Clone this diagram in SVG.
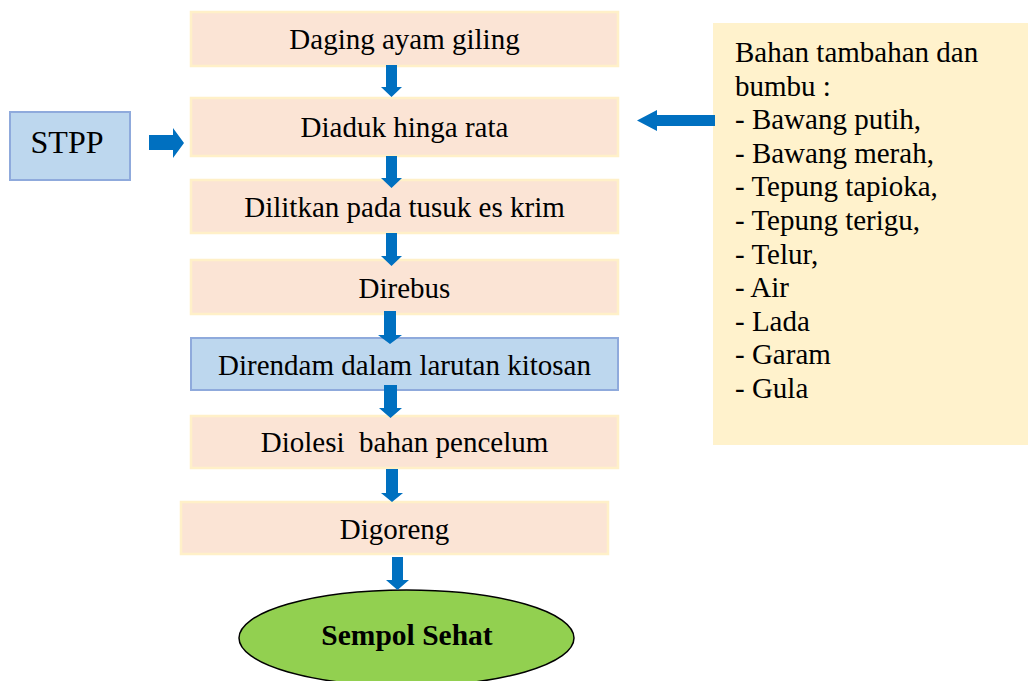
<svg xmlns="http://www.w3.org/2000/svg" width="1028" height="681" viewBox="0 0 1028 681">
<style>
.step{fill:#FBE4D5;stroke:#FFF0C8;stroke-width:2.5}
.blue{fill:#BDD7EE;stroke:#8FAADC;stroke-width:2}
text{font-family:'Liberation Serif','Times New Roman',Tinos,'DejaVu Serif',serif;font-size:29px;fill:#000;white-space:pre}
.c{text-anchor:middle}
.arr{fill:#0070C0}
</style>
<rect width="1028" height="681" fill="#fff"/>
<g id="n1"><rect class="step" x="191" y="12" width="427" height="54"/><text class="c" x="404.5" y="49">Daging ayam giling</text></g>
<g id="n2"><rect class="step" x="191" y="98" width="427" height="58"/><text class="c" x="404.5" y="137">Diaduk hinga rata</text></g>
<g id="stpp"><rect class="blue" x="10" y="112" width="120" height="68"/><text class="c" x="67" y="153" style="font-size:32px">STPP</text></g>
<g id="n3"><rect class="step" x="191" y="180" width="427" height="53"/><text class="c" x="404.5" y="217">Dilitkan pada tusuk es krim</text></g>
<g id="n4"><rect class="step" x="191" y="260" width="427" height="54"/><text class="c" x="404.5" y="298">Direbus</text></g>
<g id="n5"><rect class="blue" x="191" y="338" width="427" height="52"/><text class="c" x="404.5" y="375">Direndam dalam larutan kitosan</text></g>
<g id="n6"><rect class="step" x="191" y="416" width="427" height="52"/><text class="c" x="404.5" y="452" xml:space="preserve">Diolesi  bahan pencelum</text></g>
<g id="n7"><rect class="step" x="181" y="502" width="427" height="52"/><text class="c" x="394.5" y="539">Digoreng</text></g>
<g id="end"><ellipse cx="406.5" cy="638" rx="167.5" ry="48" fill="#92D050" stroke="#000" stroke-width="1.5"/><text class="c" x="407" y="645" style="font-weight:bold;font-size:29.5px">Sempol Sehat</text></g>
<g id="bahan"><rect x="713" y="23" width="315" height="422" fill="#FFF2CC"/>
<text x="735" y="62">Bahan tambahan dan</text>
<text x="735" y="95.6">bumbu :</text>
<text x="735" y="129.2">- Bawang putih,</text>
<text x="735" y="162.8">- Bawang merah,</text>
<text x="735" y="196.4">- Tepung tapioka,</text>
<text x="735" y="230">- Tepung terigu,</text>
<text x="735" y="263.6">- Telur,</text>
<text x="735" y="297.2">- Air</text>
<text x="735" y="330.8">- Lada</text>
<text x="735" y="364.4">- Garam</text>
<text x="735" y="398">- Gula</text>
</g>
<g id="connectors">
<polygon class="arr" points="386,65 397,65 397,87 402,87 391.5,97 381,87 386,87"/>
<polygon class="arr" points="386,156 397,156 397,178 402,178 391.5,188 381,178 386,178"/>
<polygon class="arr" points="386,233 397,233 397,256 402,256 391.5,266 381,256 386,256"/>
<polygon class="arr" points="384,311 396,311 396,335 402,335 390,344 378,335 384,335"/>
<polygon class="arr" points="384,385 397,385 397,408 402,408 390.5,418 379,408 384,408"/>
<polygon class="arr" points="386,469 398,469 398,493 403,493 392,502 381,493 386,493"/>
<polygon class="arr" points="392,557 403,557 403,580 409,580 397.5,590 386,580 392,580"/>
<polygon class="arr" points="149,135 173,135 173,128 184,143 173,158 173,150 149,150"/>
<polygon class="arr" points="715,115 657,115 657,110 637,120.5 657,131 657,126 715,126"/>
</g>
</svg>
